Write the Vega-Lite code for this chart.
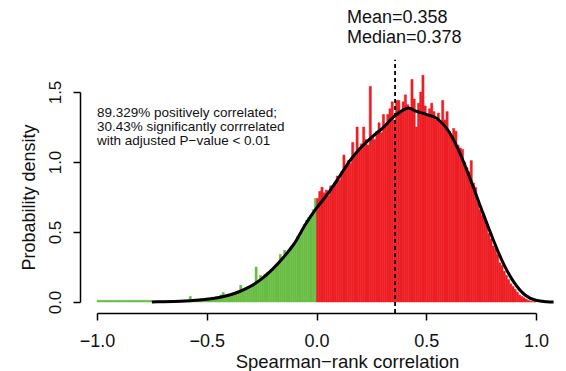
{
  "$schema": "https://vega.github.io/schema/vega-lite/v6.json",
  "width": 439,
  "height": 210,
  "autosize": "none",
  "padding": {"left": 97, "top": 92, "right": 30, "bottom": 69},
  "background": "white",
  "config": {
    "view": {"stroke": null},
    "font": "Liberation Sans",
    "axis": {
      "grid": false,
      "domainColor": "#000",
      "tickColor": "#000",
      "domainWidth": 1.5,
      "tickWidth": 1.5,
      "tickSize": 7,
      "labelColor": "#111",
      "titleColor": "#111",
      "labelFont": "Liberation Sans",
      "titleFont": "Liberation Sans",
      "labelFontSize": 17,
      "titleFontSize": 18,
      "titleFontWeight": "normal"
    }
  },
  "datasets": {
    "bins": [
      {"a": -1.00, "b": -0.99, "d": 0.012, "s": "neg"},
      {"a": -0.99, "b": -0.98, "d": 0.012, "s": "neg"},
      {"a": -0.98, "b": -0.97, "d": 0.012, "s": "neg"},
      {"a": -0.97, "b": -0.96, "d": 0.012, "s": "neg"},
      {"a": -0.96, "b": -0.95, "d": 0.012, "s": "neg"},
      {"a": -0.95, "b": -0.94, "d": 0.012, "s": "neg"},
      {"a": -0.94, "b": -0.93, "d": 0.012, "s": "neg"},
      {"a": -0.93, "b": -0.92, "d": 0.012, "s": "neg"},
      {"a": -0.92, "b": -0.91, "d": 0.012, "s": "neg"},
      {"a": -0.91, "b": -0.90, "d": 0.012, "s": "neg"},
      {"a": -0.90, "b": -0.89, "d": 0.012, "s": "neg"},
      {"a": -0.89, "b": -0.88, "d": 0.012, "s": "neg"},
      {"a": -0.88, "b": -0.87, "d": 0.012, "s": "neg"},
      {"a": -0.87, "b": -0.86, "d": 0.012, "s": "neg"},
      {"a": -0.86, "b": -0.85, "d": 0.012, "s": "neg"},
      {"a": -0.85, "b": -0.84, "d": 0.012, "s": "neg"},
      {"a": -0.84, "b": -0.83, "d": 0.012, "s": "neg"},
      {"a": -0.83, "b": -0.82, "d": 0.012, "s": "neg"},
      {"a": -0.82, "b": -0.81, "d": 0.012, "s": "neg"},
      {"a": -0.81, "b": -0.80, "d": 0.012, "s": "neg"},
      {"a": -0.80, "b": -0.79, "d": 0.012, "s": "neg"},
      {"a": -0.79, "b": -0.78, "d": 0.012, "s": "neg"},
      {"a": -0.78, "b": -0.77, "d": 0.012, "s": "neg"},
      {"a": -0.77, "b": -0.76, "d": 0.012, "s": "neg"},
      {"a": -0.76, "b": -0.75, "d": 0.012, "s": "neg"},
      {"a": -0.75, "b": -0.74, "d": 0.008, "s": "neg"},
      {"a": -0.74, "b": -0.73, "d": 0.006, "s": "neg"},
      {"a": -0.73, "b": -0.72, "d": 0.007, "s": "neg"},
      {"a": -0.72, "b": -0.71, "d": 0.005, "s": "neg"},
      {"a": -0.71, "b": -0.70, "d": 0.007, "s": "neg"},
      {"a": -0.70, "b": -0.69, "d": 0.006, "s": "neg"},
      {"a": -0.69, "b": -0.68, "d": 0.008, "s": "neg"},
      {"a": -0.68, "b": -0.67, "d": 0.006, "s": "neg"},
      {"a": -0.67, "b": -0.66, "d": 0.009, "s": "neg"},
      {"a": -0.66, "b": -0.65, "d": 0.007, "s": "neg"},
      {"a": -0.65, "b": -0.64, "d": 0.010, "s": "neg"},
      {"a": -0.64, "b": -0.63, "d": 0.008, "s": "neg"},
      {"a": -0.63, "b": -0.62, "d": 0.011, "s": "neg"},
      {"a": -0.62, "b": -0.61, "d": 0.009, "s": "neg"},
      {"a": -0.61, "b": -0.60, "d": 0.012, "s": "neg"},
      {"a": -0.60, "b": -0.59, "d": 0.011, "s": "neg"},
      {"a": -0.59, "b": -0.58, "d": 0.013, "s": "neg"},
      {"a": -0.58, "b": -0.57, "d": 0.040, "s": "neg"},
      {"a": -0.57, "b": -0.56, "d": 0.016, "s": "neg"},
      {"a": -0.56, "b": -0.55, "d": 0.013, "s": "neg"},
      {"a": -0.55, "b": -0.54, "d": 0.019, "s": "neg"},
      {"a": -0.54, "b": -0.53, "d": 0.016, "s": "neg"},
      {"a": -0.53, "b": -0.52, "d": 0.022, "s": "neg"},
      {"a": -0.52, "b": -0.51, "d": 0.019, "s": "neg"},
      {"a": -0.51, "b": -0.50, "d": 0.026, "s": "neg"},
      {"a": -0.50, "b": -0.49, "d": 0.028, "s": "neg"},
      {"a": -0.49, "b": -0.48, "d": 0.026, "s": "neg"},
      {"a": -0.48, "b": -0.47, "d": 0.034, "s": "neg"},
      {"a": -0.47, "b": -0.46, "d": 0.031, "s": "neg"},
      {"a": -0.46, "b": -0.45, "d": 0.040, "s": "neg"},
      {"a": -0.45, "b": -0.44, "d": 0.036, "s": "neg"},
      {"a": -0.44, "b": -0.43, "d": 0.050, "s": "neg"},
      {"a": -0.43, "b": -0.42, "d": 0.068, "s": "neg"},
      {"a": -0.42, "b": -0.41, "d": 0.047, "s": "neg"},
      {"a": -0.41, "b": -0.40, "d": 0.055, "s": "neg"},
      {"a": -0.40, "b": -0.39, "d": 0.052, "s": "neg"},
      {"a": -0.39, "b": -0.38, "d": 0.060, "s": "neg"},
      {"a": -0.38, "b": -0.37, "d": 0.066, "s": "neg"},
      {"a": -0.37, "b": -0.36, "d": 0.072, "s": "neg"},
      {"a": -0.36, "b": -0.35, "d": 0.080, "s": "neg"},
      {"a": -0.35, "b": -0.34, "d": 0.120, "s": "neg"},
      {"a": -0.34, "b": -0.33, "d": 0.090, "s": "neg"},
      {"a": -0.33, "b": -0.32, "d": 0.100, "s": "neg"},
      {"a": -0.32, "b": -0.31, "d": 0.108, "s": "neg"},
      {"a": -0.31, "b": -0.30, "d": 0.115, "s": "neg"},
      {"a": -0.30, "b": -0.29, "d": 0.122, "s": "neg"},
      {"a": -0.29, "b": -0.28, "d": 0.135, "s": "neg"},
      {"a": -0.28, "b": -0.27, "d": 0.250, "s": "neg"},
      {"a": -0.27, "b": -0.26, "d": 0.155, "s": "neg"},
      {"a": -0.26, "b": -0.25, "d": 0.190, "s": "neg"},
      {"a": -0.25, "b": -0.24, "d": 0.172, "s": "neg"},
      {"a": -0.24, "b": -0.23, "d": 0.198, "s": "neg"},
      {"a": -0.23, "b": -0.22, "d": 0.210, "s": "neg"},
      {"a": -0.22, "b": -0.21, "d": 0.205, "s": "neg"},
      {"a": -0.21, "b": -0.20, "d": 0.232, "s": "neg"},
      {"a": -0.20, "b": -0.19, "d": 0.245, "s": "neg"},
      {"a": -0.19, "b": -0.18, "d": 0.258, "s": "neg"},
      {"a": -0.18, "b": -0.17, "d": 0.275, "s": "neg"},
      {"a": -0.17, "b": -0.16, "d": 0.340, "s": "neg"},
      {"a": -0.16, "b": -0.15, "d": 0.305, "s": "neg"},
      {"a": -0.15, "b": -0.14, "d": 0.370, "s": "neg"},
      {"a": -0.14, "b": -0.13, "d": 0.335, "s": "neg"},
      {"a": -0.13, "b": -0.12, "d": 0.365, "s": "neg"},
      {"a": -0.12, "b": -0.11, "d": 0.400, "s": "neg"},
      {"a": -0.11, "b": -0.10, "d": 0.395, "s": "neg"},
      {"a": -0.10, "b": -0.09, "d": 0.435, "s": "neg"},
      {"a": -0.09, "b": -0.08, "d": 0.470, "s": "neg"},
      {"a": -0.08, "b": -0.07, "d": 0.465, "s": "neg"},
      {"a": -0.07, "b": -0.06, "d": 0.505, "s": "neg"},
      {"a": -0.06, "b": -0.05, "d": 0.555, "s": "neg"},
      {"a": -0.05, "b": -0.04, "d": 0.585, "s": "neg"},
      {"a": -0.04, "b": -0.03, "d": 0.605, "s": "neg"},
      {"a": -0.03, "b": -0.02, "d": 0.620, "s": "neg"},
      {"a": -0.02, "b": -0.01, "d": 0.660, "s": "neg"},
      {"a": -0.01, "b": 0.00, "d": 0.740, "s": "neg"},
      {"a": 0.00, "b": 0.01, "d": 0.740, "s": "pos"},
      {"a": 0.01, "b": 0.02, "d": 0.790, "s": "pos"},
      {"a": 0.02, "b": 0.03, "d": 0.820, "s": "pos"},
      {"a": 0.03, "b": 0.04, "d": 0.780, "s": "pos"},
      {"a": 0.04, "b": 0.05, "d": 0.800, "s": "pos"},
      {"a": 0.05, "b": 0.06, "d": 0.760, "s": "pos"},
      {"a": 0.06, "b": 0.07, "d": 0.830, "s": "pos"},
      {"a": 0.07, "b": 0.08, "d": 0.810, "s": "pos"},
      {"a": 0.08, "b": 0.09, "d": 0.860, "s": "pos"},
      {"a": 0.09, "b": 0.10, "d": 0.900, "s": "pos"},
      {"a": 0.10, "b": 0.11, "d": 0.870, "s": "pos"},
      {"a": 0.11, "b": 0.12, "d": 0.930, "s": "pos"},
      {"a": 0.12, "b": 0.13, "d": 1.050, "s": "pos"},
      {"a": 0.13, "b": 0.14, "d": 0.970, "s": "pos"},
      {"a": 0.14, "b": 0.15, "d": 1.010, "s": "pos"},
      {"a": 0.15, "b": 0.16, "d": 0.990, "s": "pos"},
      {"a": 0.16, "b": 0.17, "d": 1.140, "s": "pos"},
      {"a": 0.17, "b": 0.18, "d": 1.060, "s": "pos"},
      {"a": 0.18, "b": 0.19, "d": 1.250, "s": "pos"},
      {"a": 0.19, "b": 0.20, "d": 1.100, "s": "pos"},
      {"a": 0.20, "b": 0.21, "d": 1.130, "s": "pos"},
      {"a": 0.21, "b": 0.22, "d": 1.250, "s": "pos"},
      {"a": 0.22, "b": 0.23, "d": 1.160, "s": "pos"},
      {"a": 0.23, "b": 0.24, "d": 1.120, "s": "pos"},
      {"a": 0.24, "b": 0.25, "d": 1.540, "s": "pos"},
      {"a": 0.25, "b": 0.26, "d": 1.190, "s": "pos"},
      {"a": 0.26, "b": 0.27, "d": 1.160, "s": "pos"},
      {"a": 0.27, "b": 0.28, "d": 1.220, "s": "pos"},
      {"a": 0.28, "b": 0.29, "d": 1.280, "s": "pos"},
      {"a": 0.29, "b": 0.30, "d": 1.210, "s": "pos"},
      {"a": 0.30, "b": 0.31, "d": 1.340, "s": "pos"},
      {"a": 0.31, "b": 0.32, "d": 1.270, "s": "pos"},
      {"a": 0.32, "b": 0.33, "d": 1.340, "s": "pos"},
      {"a": 0.33, "b": 0.34, "d": 1.380, "s": "pos"},
      {"a": 0.34, "b": 0.35, "d": 1.430, "s": "pos"},
      {"a": 0.35, "b": 0.36, "d": 1.300, "s": "pos"},
      {"a": 0.36, "b": 0.37, "d": 1.440, "s": "pos"},
      {"a": 0.37, "b": 0.38, "d": 1.440, "s": "pos"},
      {"a": 0.38, "b": 0.39, "d": 1.360, "s": "pos"},
      {"a": 0.39, "b": 0.40, "d": 1.430, "s": "pos"},
      {"a": 0.40, "b": 0.41, "d": 1.480, "s": "pos"},
      {"a": 0.41, "b": 0.42, "d": 1.410, "s": "pos"},
      {"a": 0.42, "b": 0.43, "d": 1.380, "s": "pos"},
      {"a": 0.43, "b": 0.44, "d": 1.590, "s": "pos"},
      {"a": 0.44, "b": 0.45, "d": 1.450, "s": "pos"},
      {"a": 0.45, "b": 0.46, "d": 1.250, "s": "pos"},
      {"a": 0.46, "b": 0.47, "d": 1.420, "s": "pos"},
      {"a": 0.47, "b": 0.48, "d": 1.500, "s": "pos"},
      {"a": 0.48, "b": 0.49, "d": 1.620, "s": "pos"},
      {"a": 0.49, "b": 0.50, "d": 1.400, "s": "pos"},
      {"a": 0.50, "b": 0.51, "d": 1.330, "s": "pos"},
      {"a": 0.51, "b": 0.52, "d": 1.380, "s": "pos"},
      {"a": 0.52, "b": 0.53, "d": 1.420, "s": "pos"},
      {"a": 0.53, "b": 0.54, "d": 1.360, "s": "pos"},
      {"a": 0.54, "b": 0.55, "d": 1.300, "s": "pos"},
      {"a": 0.55, "b": 0.56, "d": 1.350, "s": "pos"},
      {"a": 0.56, "b": 0.57, "d": 1.280, "s": "pos"},
      {"a": 0.57, "b": 0.58, "d": 1.440, "s": "pos"},
      {"a": 0.58, "b": 0.59, "d": 1.300, "s": "pos"},
      {"a": 0.59, "b": 0.60, "d": 1.360, "s": "pos"},
      {"a": 0.60, "b": 0.61, "d": 1.220, "s": "pos"},
      {"a": 0.61, "b": 0.62, "d": 1.180, "s": "pos"},
      {"a": 0.62, "b": 0.63, "d": 1.240, "s": "pos"},
      {"a": 0.63, "b": 0.64, "d": 1.220, "s": "pos"},
      {"a": 0.64, "b": 0.65, "d": 1.120, "s": "pos"},
      {"a": 0.65, "b": 0.66, "d": 1.100, "s": "pos"},
      {"a": 0.66, "b": 0.67, "d": 1.090, "s": "pos"},
      {"a": 0.67, "b": 0.68, "d": 1.000, "s": "pos"},
      {"a": 0.68, "b": 0.69, "d": 0.960, "s": "pos"},
      {"a": 0.69, "b": 0.70, "d": 0.930, "s": "pos"},
      {"a": 0.70, "b": 0.71, "d": 1.010, "s": "pos"},
      {"a": 0.71, "b": 0.72, "d": 0.850, "s": "pos"},
      {"a": 0.72, "b": 0.73, "d": 0.820, "s": "pos"},
      {"a": 0.73, "b": 0.74, "d": 0.710, "s": "pos"},
      {"a": 0.74, "b": 0.75, "d": 0.660, "s": "pos"},
      {"a": 0.75, "b": 0.76, "d": 0.620, "s": "pos"},
      {"a": 0.76, "b": 0.77, "d": 0.590, "s": "pos"},
      {"a": 0.77, "b": 0.78, "d": 0.550, "s": "pos"},
      {"a": 0.78, "b": 0.79, "d": 0.490, "s": "pos"},
      {"a": 0.79, "b": 0.80, "d": 0.450, "s": "pos"},
      {"a": 0.80, "b": 0.81, "d": 0.400, "s": "pos"},
      {"a": 0.81, "b": 0.82, "d": 0.380, "s": "pos"},
      {"a": 0.82, "b": 0.83, "d": 0.340, "s": "pos"},
      {"a": 0.83, "b": 0.84, "d": 0.280, "s": "pos"},
      {"a": 0.84, "b": 0.85, "d": 0.260, "s": "pos"},
      {"a": 0.85, "b": 0.86, "d": 0.220, "s": "pos"},
      {"a": 0.86, "b": 0.87, "d": 0.190, "s": "pos"},
      {"a": 0.87, "b": 0.88, "d": 0.160, "s": "pos"},
      {"a": 0.88, "b": 0.89, "d": 0.130, "s": "pos"},
      {"a": 0.89, "b": 0.90, "d": 0.110, "s": "pos"},
      {"a": 0.90, "b": 0.91, "d": 0.090, "s": "pos"},
      {"a": 0.91, "b": 0.92, "d": 0.070, "s": "pos"},
      {"a": 0.92, "b": 0.93, "d": 0.050, "s": "pos"},
      {"a": 0.93, "b": 0.94, "d": 0.040, "s": "pos"},
      {"a": 0.94, "b": 0.95, "d": 0.030, "s": "pos"},
      {"a": 0.95, "b": 0.96, "d": 0.020, "s": "pos"},
      {"a": 0.96, "b": 0.97, "d": 0.012, "s": "pos"},
      {"a": 0.97, "b": 0.98, "d": 0.006, "s": "pos"},
      {"a": 0.98, "b": 0.99, "d": 0.003, "s": "pos"},
      {"a": 0.99, "b": 1.00, "d": 0.001, "s": "pos"}
    ],
    "kde": [
      {"x": -0.75, "y": 0.0},
      {"x": -0.70, "y": 0.002},
      {"x": -0.65, "y": 0.004},
      {"x": -0.60, "y": 0.007},
      {"x": -0.55, "y": 0.012},
      {"x": -0.50, "y": 0.019},
      {"x": -0.45, "y": 0.030},
      {"x": -0.40, "y": 0.048},
      {"x": -0.35, "y": 0.075},
      {"x": -0.30, "y": 0.112},
      {"x": -0.25, "y": 0.165},
      {"x": -0.20, "y": 0.235},
      {"x": -0.15, "y": 0.320},
      {"x": -0.10, "y": 0.420},
      {"x": -0.05, "y": 0.555},
      {"x": 0.00, "y": 0.670},
      {"x": 0.05, "y": 0.770},
      {"x": 0.10, "y": 0.885},
      {"x": 0.15, "y": 1.005},
      {"x": 0.20, "y": 1.100},
      {"x": 0.25, "y": 1.175},
      {"x": 0.30, "y": 1.240},
      {"x": 0.35, "y": 1.320},
      {"x": 0.40, "y": 1.375},
      {"x": 0.42, "y": 1.385},
      {"x": 0.45, "y": 1.365},
      {"x": 0.50, "y": 1.340},
      {"x": 0.55, "y": 1.310},
      {"x": 0.60, "y": 1.225},
      {"x": 0.65, "y": 1.075},
      {"x": 0.70, "y": 0.880},
      {"x": 0.75, "y": 0.670},
      {"x": 0.80, "y": 0.465},
      {"x": 0.85, "y": 0.280},
      {"x": 0.90, "y": 0.140},
      {"x": 0.95, "y": 0.050},
      {"x": 1.00, "y": 0.012},
      {"x": 1.05, "y": 0.002},
      {"x": 1.08, "y": 0.0}
    ],
    "stats": [
      {"x": 0.139, "y": 2.03, "t": "Mean=0.358"},
      {"x": 0.139, "y": 1.886, "t": "Median=0.378"}
    ],
    "notes": [
      {"x": -1.0, "y": 1.35, "t": "89.329% positively correlated;"},
      {"x": -1.0, "y": 1.25, "t": "30.43% significantly corrrelated"},
      {"x": -1.0, "y": 1.15, "t": "with adjusted P−value < 0.01"}
    ],
    "meanline": [
      {"m": 0.358, "lo": -0.079, "hi": 1.73}
    ]
  },
  "layer": [
    {
      "data": {"name": "bins"},
      "mark": {"type": "rect", "strokeWidth": 0.5},
      "encoding": {
        "x": {
          "field": "a",
          "type": "quantitative",
          "scale": {"domain": [-1, 1], "nice": false, "zero": false},
          "axis": {
            "values": [-1, -0.5, 0, 0.5, 1],
            "format": ".1f",
            "offset": 11,
            "labelFontSize": 18,
            "labelPadding": 12,
            "labelFlush": false,
            "title": "Spearman−rank correlation",
            "titleFontSize": 18.5,
            "titlePadding": 2,
            "titleX": 250
          }
        },
        "x2": {"field": "b"},
        "y": {
          "field": "d",
          "type": "quantitative",
          "scale": {"domain": [0, 1.5], "nice": false},
          "axis": {
            "values": [0, 0.5, 1, 1.5],
            "format": ".1f",
            "offset": 17,
            "labelAngle": -90,
            "labelAlign": "center",
            "labelBaseline": "alphabetic",
            "labelPadding": 13,
            "labelFlush": false,
            "title": "Probability density",
            "titlePadding": 8
          }
        },
        "y2": {"datum": 0},
        "color": {
          "field": "s",
          "type": "nominal",
          "scale": {"domain": ["neg", "pos"], "range": ["#6ABD45", "#ED1F24"]},
          "legend": null
        },
        "stroke": {
          "field": "s",
          "type": "nominal",
          "scale": {"domain": ["neg", "pos"], "range": ["#6ABD45", "#ED1F24"]},
          "legend": null
        }
      }
    },
    {
      "data": {"name": "kde"},
      "mark": {"type": "line", "color": "#000", "strokeWidth": 3, "interpolate": "monotone"},
      "encoding": {
        "x": {"field": "x", "type": "quantitative"},
        "y": {"field": "y", "type": "quantitative"}
      }
    },
    {
      "data": {"name": "meanline"},
      "mark": {"type": "rule", "color": "#000", "strokeWidth": 1.8, "strokeDash": [4, 3]},
      "encoding": {
        "x": {"field": "m", "type": "quantitative"},
        "y": {"field": "lo", "type": "quantitative"},
        "y2": {"field": "hi"}
      }
    },
    {
      "data": {"name": "stats"},
      "mark": {"type": "text", "align": "left", "baseline": "middle", "fontSize": 18, "font": "Liberation Sans", "color": "#111"},
      "encoding": {
        "x": {"field": "x", "type": "quantitative"},
        "y": {"field": "y", "type": "quantitative"},
        "text": {"field": "t"}
      }
    },
    {
      "data": {"name": "notes"},
      "mark": {"type": "text", "align": "left", "baseline": "middle", "fontSize": 13.5, "font": "Liberation Sans", "color": "#111"},
      "encoding": {
        "x": {"field": "x", "type": "quantitative"},
        "y": {"field": "y", "type": "quantitative"},
        "text": {"field": "t"}
      }
    }
  ]
}
